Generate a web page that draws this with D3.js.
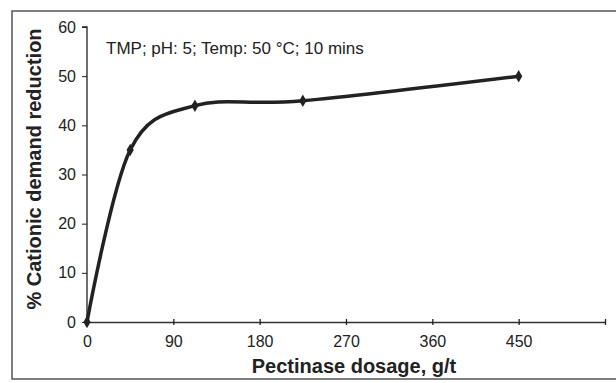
<!DOCTYPE html>
<html><head><meta charset="utf-8">
<script src="https://cdn.jsdelivr.net/npm/d3@7/dist/d3.min.js"></script>
<style>body{margin:0;background:#fff}svg{display:block}</style>
</head><body>
<script>
const dosage = [0, 45, 112.5, 225, 450];
const reduction = [0, 35, 44, 45, 50];
const xTicks = [0, 90, 180, 270, 360, 450, 540];
const xTickLabels = ["0", "90", "180", "270", "360", "450", ""];
const yTicks = [0, 10, 20, 30, 40, 50, 60];
const annotation = "TMP; pH: 5; Temp: 50 °C; 10 mins";
const xTitle = "Pectinase dosage, g/t";
const yTitle = "% Cationic demand reduction";

const W = 616, H = 383;
const font = "'Liberation Sans', Arial, sans-serif";
const svg = d3.select("body").append("svg").attr("width", W).attr("height", H)
  .style("font-family", font);

// frame
svg.append("rect").attr("x", 12).attr("y", 11).attr("width", 700).attr("height", 368)
  .attr("fill", "none").attr("stroke", "#555").attr("stroke-width", 1.5);

const x = d3.scaleLinear().domain([0, 540]).range([87, 605]);
const y = d3.scaleLinear().domain([0, 60]).range([322, 27]);

const ink = "#222";

// y axis
const yAxis = d3.axisLeft(y).tickValues(yTicks).tickSize(5).tickPadding(6);
const gy = svg.append("g").attr("transform", `translate(${x(0)},0)`).call(yAxis);
gy.select(".domain").attr("stroke", ink).attr("stroke-width", 1.3).attr("d", `M-5,${y(60)}H0V${y(0)}`);
gy.selectAll(".tick line").attr("stroke", ink);
gy.selectAll(".tick text").attr("font-size", 16).attr("fill", ink).attr("font-family", font);

// x axis
const xAxis = d3.axisBottom(x).tickValues(xTicks).tickSize(0).tickPadding(13.5)
  .tickFormat((d, i) => xTickLabels[i]);
const gx = svg.append("g").attr("transform", `translate(0,${y(0)})`).call(xAxis);
gx.select(".domain").attr("stroke", "#333").attr("stroke-width", 1.3);
gx.selectAll(".tick line").attr("stroke", ink).attr("y1", -3).attr("y2", 3).attr("stroke-width", 1.3);
gx.selectAll(".tick text").attr("font-size", 16).attr("fill", ink).attr("font-family", font);

// line
const pts = dosage.map((d, i) => [d, reduction[i]]);
const line = d3.line().x(d => x(d[0])).y(d => y(d[1])).curve(d3.curveCardinal.tension(0));
svg.append("path").attr("d", line(pts)).attr("fill", "none").attr("stroke", ink)
  .attr("stroke-width", 3.5).attr("stroke-linejoin", "round").attr("stroke-linecap", "round");

// markers
svg.selectAll(".mk").data(pts).join("path").attr("class", "mk")
  .attr("d", d3.symbol(d3.symbolDiamond, 45))
  .attr("transform", d => `translate(${x(d[0])},${y(d[1])})`)
  .attr("fill", ink);

// annotation
svg.append("text").attr("x", 106).attr("y", 54).attr("font-size", 17).attr("fill", ink).text(annotation);

// titles
svg.append("text").attr("x", 354).attr("y", 373).attr("text-anchor", "middle")
  .attr("font-size", 20).attr("font-weight", "bold").attr("fill", ink).text(xTitle);
svg.append("text").attr("transform", "translate(41,169) rotate(-90)").attr("text-anchor", "middle")
  .attr("font-size", 20).attr("font-weight", "bold").attr("fill", ink).text(yTitle);
</script>
</body></html>
